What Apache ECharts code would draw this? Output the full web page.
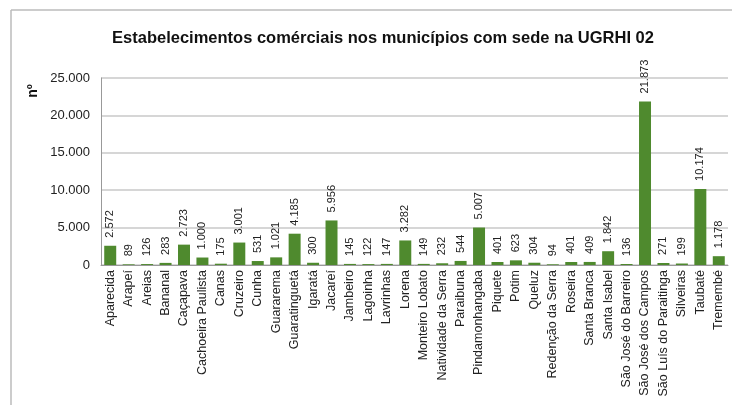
<!DOCTYPE html>
<html>
<head>
<meta charset="utf-8">
<script src="https://cdn.jsdelivr.net/npm/echarts@6/dist/echarts.min.js"></script>
<style>
  html, body { margin: 0; padding: 0; background: #fff; }
  #chart-container { width: 732px; height: 405px; }
</style>
</head>
<body>
<div id="chart-container"></div>
<script>
// municípios da UGRHI 02
var municipios = [
  "Aparecida", "Arapeí", "Areias", "Bananal", "Caçapava", "Cachoeira Paulista",
  "Canas", "Cruzeiro", "Cunha", "Guararema", "Guaratinguetá", "Igaratá",
  "Jacareí", "Jambeiro", "Lagoinha", "Lavrinhas", "Lorena", "Monteiro Lobato",
  "Natividade da Serra", "Paraibuna", "Pindamonhangaba", "Piquete", "Potim",
  "Queluz", "Redenção da Serra", "Roseira", "Santa Branca", "Santa Isabel",
  "São José do Barreiro", "São José dos Campos", "São Luís do Paraitinga",
  "Silveiras", "Taubaté", "Tremembé"
];

var estabelecimentos = [
  2572, 89, 126, 283, 2723, 1000, 175, 3001, 531, 1021, 4185, 300,
  5956, 145, 122, 147, 3282, 149, 232, 544, 5007, 401, 623,
  304, 94, 401, 409, 1842, 136, 21873, 271, 199, 10174, 1178
];

var yTicks = [0, 5000, 10000, 15000, 20000, 25000];

function fmt(v) {
  return String(v).replace(/\B(?=(\d{3})+(?!\d))/g, ".");
}

var chartDom = document.getElementById("chart-container");
var myChart = echarts.init(chartDom);

var option = {
  backgroundColor: "#fff",
  animation: false,
  textStyle: { fontFamily: "Liberation Sans, Arial, sans-serif" },
  title: {
    text: "Estabelecimentos comérciais nos municípios com sede na UGRHI 02",
    left: 378,
    top: 25,
    textAlign: "center",
    textStyle: { fontSize: 16.5, fontWeight: "bold", color: "#111" }
  },
  graphic: [
    { type: "line", shape: { x1: 11, y1: 10, x2: 732, y2: 10 }, style: { stroke: "#bbb", lineWidth: 1.5 } },
    { type: "line", shape: { x1: 11, y1: 10, x2: 11, y2: 405 }, style: { stroke: "#bbb", lineWidth: 1.5 } },
    {
      type: "text", x: 33, y: 91, rotation: Math.PI / 2,
      style: { text: "nº", font: "bold 14px Liberation Sans, Arial", fill: "#111", align: "center", verticalAlign: "middle" }
    }
  ],
  grid: { left: 101, right: 4, top: 78, bottom: 140 },
  xAxis: {
    type: "category",
    data: municipios,
    axisLine: { lineStyle: { color: "#999" } },
    axisTick: { show: false },
    axisLabel: { rotate: 90, interval: 0, fontSize: 12.5, color: "#222", margin: 5 }
  },
  yAxis: {
    type: "value",
    min: 0,
    max: yTicks[yTicks.length - 1],
    interval: yTicks[1] - yTicks[0],
    axisLine: { show: true, lineStyle: { color: "#999" } },
    axisTick: { show: false },
    splitLine: { lineStyle: { color: "#c8c8c8", width: 1.5 } },
    axisLabel: { formatter: fmt, fontSize: 13, color: "#222", margin: 11 }
  },
  series: [{
    type: "bar",
    data: estabelecimentos,
    barCategoryGap: "35%",
    itemStyle: { color: "#4F8A2E" },
    label: {
      show: true,
      position: "top",
      rotate: 90,
      align: "left",
      verticalAlign: "middle",
      distance: 8,
      fontSize: 11,
      color: "#222",
      formatter: function (p) { return fmt(p.value); }
    }
  }]
};

option && myChart.setOption(option);

window.addEventListener("resize", function () {
  myChart.resize();
});
</script>
</body>
</html>
